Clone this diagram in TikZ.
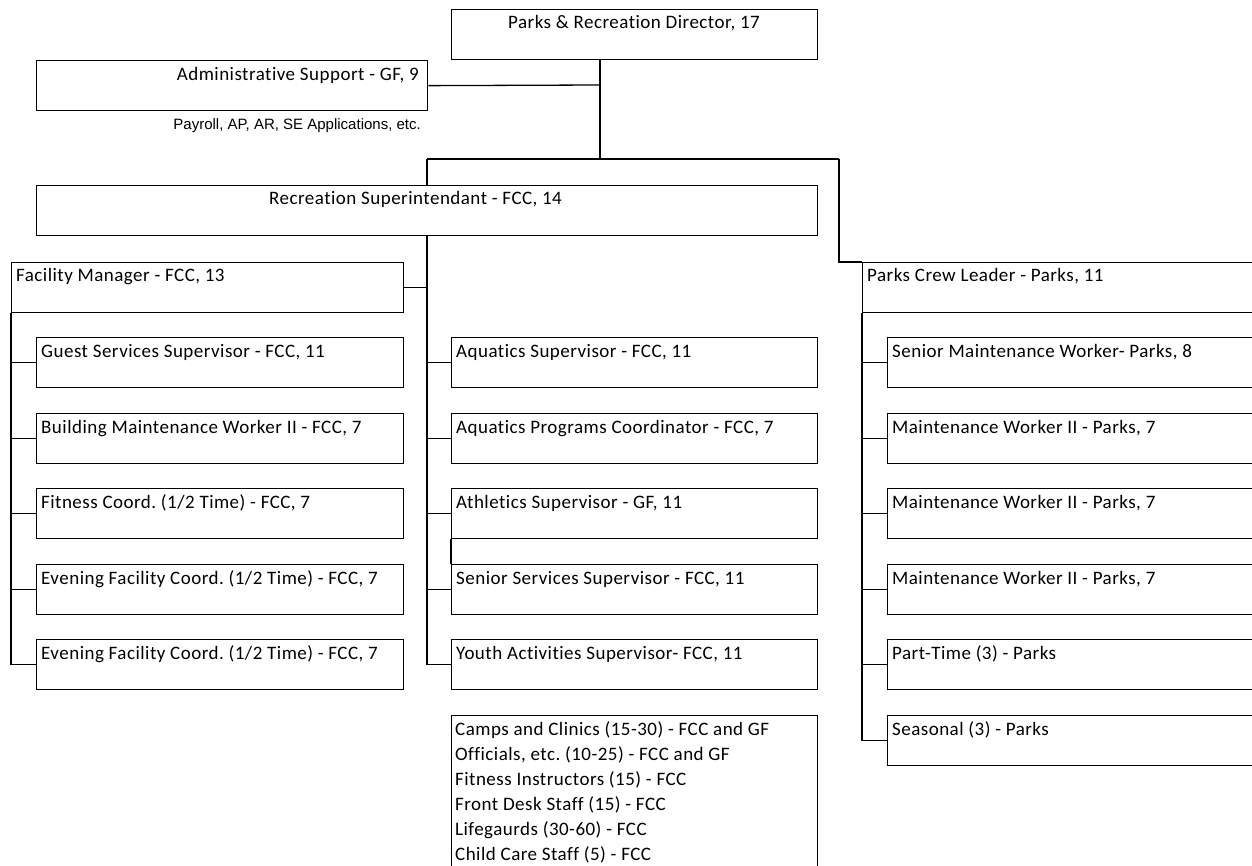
\documentclass[tikz,border=0pt]{standalone}
\usepackage{fontspec}
\setmainfont{Carlito}[Ligatures=NoCommon, LetterSpace=2.5]
\newfontfamily\smallsans{Liberation Sans}
\frenchspacing
\newcommand\obox[6]{%
  \node[box, minimum width=#4pt, minimum height=#5pt] (#1) at (#2,#3) {};
  \node[lbl] (#1-t) at ({#2+5},{#3+20}) {#6};}
\begin{document}
\frenchspacing
\begin{tikzpicture}[x=1pt,y=-1pt,
  box/.style={draw, line width=1.3pt, rectangle, anchor=north west, inner sep=0pt},
  lbl/.style={anchor=base west, inner sep=0pt, font=\fontsize{19}{22}\selectfont},
  conn/.style={line width=1.3pt}]
\useasboundingbox (0,0) rectangle (1252,866);
% top level
\node[box, minimum width=366pt, minimum height=50pt] (dir) at (451,9) {};
\node[lbl, anchor=base] (dir-t) at (634,29) {Parks \& Recreation Director, 17};
\node[box, minimum width=391pt, minimum height=50pt] (adm) at (36,60) {};
\node[lbl, anchor=base east] (adm-t) at (419,81) {Administrative Support - GF, 9};
\node[anchor=base east, inner sep=0pt, font=\smallsans\fontsize{15}{17}\selectfont] (pay) at (421,130) {Payroll, AP, AR, SE Applications, etc.};
\node[box, minimum width=781pt, minimum height=50pt] (rec) at (36,185) {};
\node[lbl] (rec-t) at (269,205) {Recreation Superintendant - FCC, 14};
% second level
\obox{fm}{11}{262}{392}{50}{Facility Manager - FCC, 13}
\obox{pcl}{862}{262}{396}{50}{Parks Crew Leader - Parks, 11}
% left column
\obox{l1}{36}{337}{367}{50}{Guest Services Supervisor - FCC, 11}
\obox{l2}{36}{413}{367}{50}{Building Maintenance Worker II - FCC, 7}
\obox{l3}{36}{488}{367}{50}{Fitness Coord. (1/2 Time) - FCC, 7}
\obox{l4}{36}{564}{367}{50}{Evening Facility Coord. (1/2 Time) - FCC, 7}
\obox{l5}{36}{639}{367}{50}{Evening Facility Coord. (1/2 Time) - FCC, 7}
% middle column
\obox{m1}{451}{337}{366}{50}{Aquatics Supervisor - FCC, 11}
\obox{m2}{451}{413}{366}{50}{Aquatics Programs Coordinator - FCC, 7}
\obox{m3}{451}{488}{366}{50}{Athletics Supervisor - GF, 11}
\obox{m4}{451}{564}{366}{50}{Senior Services Supervisor - FCC, 11}
\obox{m5}{451}{639}{366}{50}{Youth Activities Supervisor- FCC, 11}
\node[box, minimum width=366pt, minimum height=160pt] (pool) at (451,715) {};
\node[lbl, align=left, anchor=north west, font=\fontsize{19}{25}\selectfont] (pool-t) at (455,721)
  {Camps and Clinics (15-30) - FCC and GF\\Officials, etc. (10-25) - FCC and GF\\Fitness Instructors (15) - FCC\\Front Desk Staff (15) - FCC\\Lifegaurds (30-60) - FCC\\Child Care Staff (5) - FCC};
% right column
\obox{r1}{887}{337}{371}{50}{Senior Maintenance Worker- Parks, 8}
\obox{r2}{887}{413}{371}{50}{Maintenance Worker II - Parks, 7}
\obox{r3}{887}{488}{371}{50}{Maintenance Worker II - Parks, 7}
\obox{r4}{887}{564}{371}{50}{Maintenance Worker II - Parks, 7}
\obox{r5}{887}{639}{371}{50}{Part-Time (3) - Parks}
\obox{r6}{887}{715}{371}{50}{Seasonal (3) - Parks}
% junctions
\coordinate (j0) at (600,85);
\coordinate (h1) at (427,159);
\coordinate (h2) at (839,159);
% connectors
\draw[conn] (dir.south -| j0) -- (h1 -| j0);
\draw[conn] (adm.east) -- (j0);
\draw[conn] (h1) -- (h2);
\draw[conn] (h1) -- (h1 |- rec.north);
\draw[conn] (h2) |- (pcl.north west);
\draw[conn] (rec.south -| h1) -- (h1 |- m5.west);
\draw[conn] (fm.east) -- (fm.east -| h1);
\foreach \c in {m1,m2,m3,m4,m5} \draw[conn] (h1 |- \c.west) -- (\c.west);
\draw[conn] (m3.south west) -- (m4.north west);
\draw[conn] (fm.south west) |- (l5.west);
\foreach \c in {l1,l2,l3,l4} \draw[conn] (fm.south west |- \c.west) -- (\c.west);
\draw[conn] (pcl.south west) |- (r6.west);
\foreach \c in {r1,r2,r3,r4,r5} \draw[conn] (pcl.south west |- \c.west) -- (\c.west);
\end{tikzpicture}
\end{document}
